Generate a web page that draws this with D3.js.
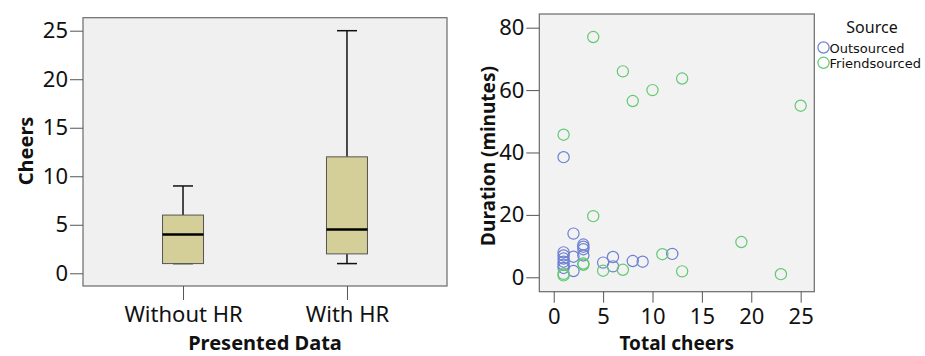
<!DOCTYPE html>
<html lang="en">
<head>
<meta charset="UTF-8">
<title>Cheers</title>
<script src="https://d3js.org/d3.v7.min.js"></script>
<style>
  body { margin: 0; background: #fff; }
  text { font-family: "Noto Sans", "DejaVu Sans", sans-serif; fill: #111; }
  .tick line { stroke: #555; }
</style>
</head>
<body>
<div id="wrapper"></div>

<script>
// ---- data ----
// box plot: cheers per presented data group
const groups = ["Without HR", "With HR"];
const boxMin    = [1, 1];
const boxQ1     = [1, 2];
const boxMedian = [4, 4.5];
const boxQ3     = [6, 12];
const boxMax    = [9, 25];
const cheerTicks = [0, 5, 10, 15, 20, 25];

// scatter: total cheers vs duration, by source
const sources = ["Outsourced", "Friendsourced"];
const outCheers   = [1, 1, 1, 1, 1, 1, 1, 2, 2, 2, 3, 3, 3, 3, 5, 6, 6, 8, 9, 12];
const outDuration = [38.5, 8, 7, 6, 5, 4, 3, 14, 6.6, 2, 10.5, 9.8, 9, 7, 4.7, 6.5, 3.5, 5.2, 5, 7.5];
const friendCheers   = [4, 7, 13, 10, 8, 25, 1, 4, 19, 11, 3, 3, 5, 7, 13, 23, 1, 1];
const friendDuration = [77, 66, 63.7, 60, 56.5, 55, 45.7, 19.6, 11.3, 7.4, 4.0, 4.4, 2.1, 2.4, 1.9, 1, 0.6, 1.1];
const xTicks = [0, 5, 10, 15, 20, 25];
const yTicks = [0, 20, 40, 60, 80];

const svg = d3.select("#wrapper")
  .append("svg")
    .attr("width", 925)
    .attr("height", 356);

// ================= left: box plot =================
const left = {x0: 83, x1: 447, y0: 17.7, y1: 286};

const yBox = d3.scaleLinear()
  .domain([-1.31, 26.34])
  .range([left.y1, left.y0]);

const xBox = d3.scalePoint()
  .domain(groups)
  .range([left.x0, left.x1])
  .padding(0.61);

svg.append("rect")
  .attr("x", left.x0).attr("y", left.y0)
  .attr("width", left.x1 - left.x0).attr("height", left.y1 - left.y0)
  .attr("fill", "#f0f0f0")
  .attr("stroke", "#6a6a6a").attr("stroke-width", 1.2);

svg.append("g")
  .attr("transform", `translate(${left.x0},0)`)
  .call(d3.axisLeft(yBox).tickValues(cheerTicks).tickSize(13).tickPadding(2))
  .call(g => g.select(".domain").remove())
  .call(g => g.selectAll("text").style("font-size", "22px").attr("fill", "#111"));

svg.append("g")
  .attr("transform", `translate(0,${left.y1})`)
  .call(d3.axisBottom(xBox).tickSize(14).tickPadding(6))
  .call(g => g.select(".domain").remove())
  .call(g => g.selectAll("text").style("font-size", "22px").attr("fill", "#111"));

const boxW = 41, capW = 20;
const boxes = svg.append("g")
  .selectAll("g")
  .data(groups)
  .join("g");

// whiskers
boxes.append("line")
  .attr("x1", d => xBox(d)).attr("x2", d => xBox(d))
  .attr("y1", (d, i) => yBox(boxQ3[i])).attr("y2", (d, i) => yBox(boxMax[i]))
  .attr("stroke", "#111").attr("stroke-width", 1.5);
boxes.append("line")
  .attr("x1", d => xBox(d)).attr("x2", d => xBox(d))
  .attr("y1", (d, i) => yBox(boxQ1[i])).attr("y2", (d, i) => yBox(boxMin[i]))
  .attr("stroke", "#111").attr("stroke-width", 1.5);
// caps
boxes.append("line")
  .attr("x1", d => xBox(d) - capW / 2).attr("x2", d => xBox(d) + capW / 2)
  .attr("y1", (d, i) => yBox(boxMax[i])).attr("y2", (d, i) => yBox(boxMax[i]))
  .attr("stroke", "#111").attr("stroke-width", 1.5);
boxes.append("line")
  .attr("x1", d => xBox(d) - capW / 2).attr("x2", d => xBox(d) + capW / 2)
  .attr("y1", (d, i) => yBox(boxMin[i])).attr("y2", (d, i) => yBox(boxMin[i]))
  .attr("stroke", "#111").attr("stroke-width", 1.5);
// box
boxes.append("rect")
  .attr("x", d => xBox(d) - boxW / 2)
  .attr("y", (d, i) => yBox(boxQ3[i]))
  .attr("width", boxW)
  .attr("height", (d, i) => yBox(boxQ1[i]) - yBox(boxQ3[i]))
  .attr("fill", "#d4cf98")
  .attr("stroke", "#555").attr("stroke-width", 1);
// median
boxes.append("line")
  .attr("x1", d => xBox(d) - boxW / 2).attr("x2", d => xBox(d) + boxW / 2)
  .attr("y1", (d, i) => yBox(boxMedian[i])).attr("y2", (d, i) => yBox(boxMedian[i]))
  .attr("stroke", "#000").attr("stroke-width", 2.5);

svg.append("text")
  .attr("x", (left.x0 + left.x1) / 2).attr("y", 350)
  .attr("text-anchor", "middle")
  .style("font-size", "20px").style("font-weight", "bold")
  .text("Presented Data");

svg.append("text")
  .attr("transform", `translate(33,151) rotate(-90)`)
  .attr("text-anchor", "middle")
  .style("font-size", "20px").style("font-weight", "bold")
  .text("Cheers");

// ================= right: scatter =================
const right = {x0: 539.3, x1: 814.3, y0: 14, y1: 291.7};

const x = d3.scaleLinear()
  .domain([-1.46, 26.38])
  .range([right.x0, right.x1]);

const y = d3.scaleLinear()
  .domain([-4.62, 84.39])
  .range([right.y1, right.y0]);

const color = d3.scaleOrdinal()
  .domain(sources)
  .range(["#6d80d2", "#62c972"]);

svg.append("rect")
  .attr("x", right.x0).attr("y", right.y0)
  .attr("width", right.x1 - right.x0).attr("height", right.y1 - right.y0)
  .attr("fill", "#f2f2f2")
  .attr("stroke", "#6a6a6a").attr("stroke-width", 1.2);

svg.append("g")
  .attr("transform", `translate(${right.x0},0)`)
  .call(d3.axisLeft(y).tickValues(yTicks).tickSize(13).tickPadding(2))
  .call(g => g.select(".domain").remove())
  .call(g => g.selectAll("text").style("font-size", "22px").attr("fill", "#111"));

svg.append("g")
  .attr("transform", `translate(0,${right.y1})`)
  .call(d3.axisBottom(x).tickValues(xTicks).tickSize(11).tickPadding(6))
  .call(g => g.select(".domain").remove())
  .call(g => g.selectAll("text").style("font-size", "22px").attr("fill", "#111"));

const outPts = outCheers.map((c, i) => ({c: c, d: outDuration[i], s: sources[0]}));
const friendPts = friendCheers.map((c, i) => ({c: c, d: friendDuration[i], s: sources[1]}));

svg.append("g")
  .selectAll("circle")
  .data(outPts.concat(friendPts))
  .join("circle")
    .attr("cx", d => x(d.c))
    .attr("cy", d => y(d.d))
    .attr("r", 5.6)
    .attr("fill", "none")
    .attr("stroke", d => color(d.s))
    .attr("stroke-width", 1.2);

svg.append("text")
  .attr("x", (right.x0 + right.x1) / 2).attr("y", 350)
  .attr("text-anchor", "middle")
  .style("font-size", "19px").style("font-weight", "bold")
  .text("Total cheers");

svg.append("text")
  .attr("transform", `translate(495,156) rotate(-90)`)
  .attr("text-anchor", "middle")
  .style("font-size", "19px").style("font-weight", "bold")
  .text("Duration (minutes)");

// legend
svg.append("text")
  .attr("x", 872).attr("y", 33)
  .attr("text-anchor", "middle")
  .style("font-size", "16px")
  .text("Source");

const legend = svg.append("g")
  .selectAll("g")
  .data(sources)
  .join("g")
    .attr("transform", (d, i) => `translate(0,${47.5 + i * 15.3})`);
legend.append("circle")
  .attr("cx", 823.5).attr("cy", 0).attr("r", 5.6)
  .attr("fill", "none")
  .attr("stroke", d => color(d))
  .attr("stroke-width", 1.2);
legend.append("text")
  .attr("x", 829.5).attr("y", 5)
  .style("font-family", "'DejaVu Sans', sans-serif")
  .style("font-size", "13px")
  .text(d => d);
</script>
</body>
</html>
